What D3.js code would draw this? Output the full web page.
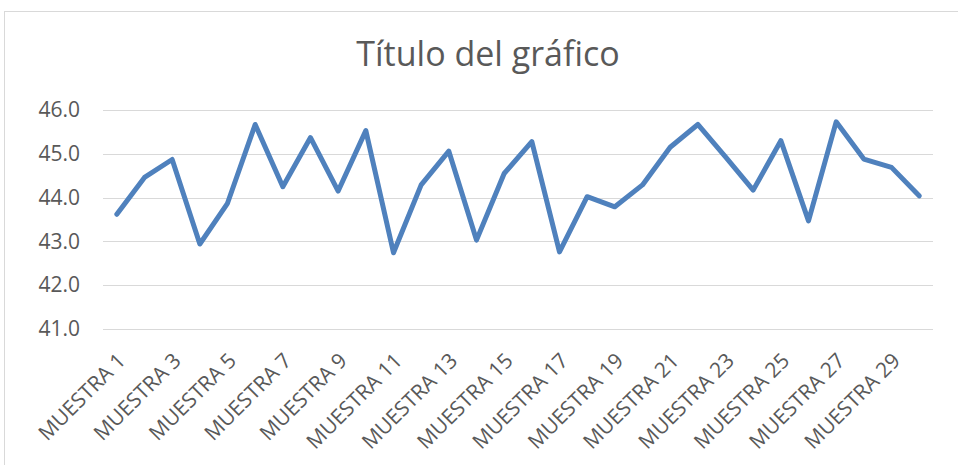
<!DOCTYPE html>
<html><head><meta charset="utf-8">
<script src="https://cdn.jsdelivr.net/npm/d3@7"></script>
<style>body{margin:0;background:#fff;}svg{display:block;}</style>
</head><body>
<svg id="c" width="958" height="465"></svg>
<script>
const categories = Array.from({length:30},(_,i)=>"MUESTRA "+(i+1));
const values = [43.62,44.46,44.87,42.94,43.87,45.67,44.25,45.37,44.15,45.53,
                42.74,44.29,45.06,43.03,44.55,45.28,42.76,44.02,43.79,44.29,
                45.15,45.67,44.93,44.17,45.30,43.47,45.73,44.88,44.69,44.04];
const yTicks = [41,42,43,44,45,46];
const title = "Título del gráfico";

const svg = d3.select("#c");
const font = "'Open Sans', 'Noto Sans', sans-serif";
const txt = "#595959";

svg.append("rect").attr("x",4.5).attr("y",11.5).attr("width",1000).attr("height",500)
  .attr("fill","#fff").attr("stroke","#d9d9d9");

const x = d3.scaleBand().domain(categories).range([103,933]);
const y = d3.scaleLinear().domain([41,46]).range([329,110]);

svg.append("text").attr("x",488).attr("y",66).attr("text-anchor","middle")
  .attr("font-family",font).attr("font-size",34).attr("fill",txt).text(title);

const g = svg.append("g");
g.selectAll("line.grid").data(yTicks).enter().append("line")
  .attr("x1",103).attr("x2",933).attr("y1",d=>Math.round(y(d))+0.5).attr("y2",d=>Math.round(y(d))+0.5)
  .attr("stroke","#d9d9d9").attr("stroke-width",1.2);

const yAxis = svg.append("g").attr("transform","translate(103,0)")
  .call(d3.axisLeft(y).tickValues(yTicks).tickFormat(d3.format(".1f")).tickSize(0).tickPadding(23));
yAxis.select(".domain").remove();
yAxis.selectAll("text").attr("font-family",font).attr("font-size",21).attr("fill",txt);

const xAxis = svg.append("g").attr("transform","translate(0,329)")
  .call(d3.axisBottom(x).tickValues(categories.filter((d,i)=>i%2===0)).tickSize(0).tickPadding(0));
xAxis.select(".domain").remove();
xAxis.selectAll("text").attr("font-family",font).attr("font-size",21).attr("fill",txt)
  .attr("text-anchor","end").attr("dy",0)
  .attr("transform","translate(10,33) rotate(-45)");

const line = d3.line().x((d,i)=>x(categories[i])+x.bandwidth()/2).y(d=>y(d));
svg.append("path").datum(values).attr("d",line).attr("fill","none")
  .attr("stroke","#4f81bd").attr("stroke-width",5).attr("stroke-linejoin","round").attr("stroke-linecap","round");
</script>
</body></html>
